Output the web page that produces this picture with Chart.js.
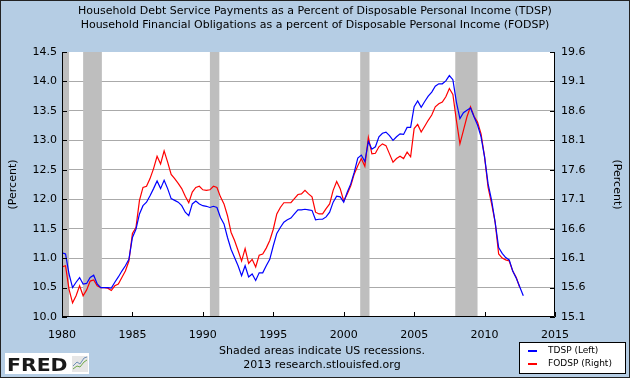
<!DOCTYPE html>
<html>
<head>
<meta charset="utf-8">
<script src="https://cdn.jsdelivr.net/npm/chart.js@4.4.1/dist/chart.umd.min.js"></script>
<style>
  html, body { margin: 0; padding: 0; background: #B5CDE4; }
  canvas { display: block; }
</style>
</head>
<body>
<canvas id="c" width="630" height="378"></canvas>
<script>
// ---------------- DATA ----------------
const firstYear = 1980;
const lastYear = 2012;
// quarterly categories (1980 Q1 ... 2012 Q4)
const quarters = [];
for (let y = firstYear; y <= lastYear; y++) for (let q = 0; q < 4; q++) quarters.push(y + q / 4);

// Household Debt Service Payments as % of DPI (left axis)
const tdsp = [
  11.09, 11.07, 10.73, 10.50,
  10.59, 10.67, 10.56, 10.57,
  10.67, 10.71, 10.56, 10.50,
  10.50, 10.50, 10.49, 10.59,
  10.68, 10.78, 10.87, 10.98,
  11.35, 11.49, 11.75, 11.89,
  11.95, 12.06, 12.18, 12.31,
  12.18, 12.32, 12.18, 12.01,
  11.98, 11.95, 11.89, 11.78,
  11.72, 11.92, 11.97, 11.92,
  11.89, 11.88, 11.86, 11.88,
  11.86, 11.69, 11.58, 11.35,
  11.15, 11.01, 10.87, 10.70,
  10.87, 10.68, 10.73, 10.62,
  10.75, 10.75, 10.87, 10.98,
  11.21, 11.42, 11.52, 11.61,
  11.65, 11.68, 11.75, 11.82,
  11.82, 11.83, 11.82, 11.81,
  11.65, 11.66, 11.66, 11.70,
  11.78, 11.95, 12.05, 12.04,
  11.95, 12.12, 12.26, 12.46,
  12.70, 12.75, 12.64, 12.98,
  12.85, 12.89, 13.06, 13.12,
  13.14, 13.08, 13.00, 13.06,
  13.11, 13.10, 13.22, 13.22,
  13.57, 13.67, 13.56, 13.66,
  13.75, 13.82, 13.92, 13.96,
  13.96, 14.01, 14.10, 14.03,
  13.65, 13.37, 13.47, 13.51,
  13.55, 13.40, 13.26, 13.06,
  12.72, 12.26, 11.98, 11.61,
  11.18, 11.08, 11.01, 10.97,
  10.78, 10.66, 10.51, 10.36
];

// Household Financial Obligations as % of DPI (right axis)
const fodsp = [
  15.95, 15.97, 15.57, 15.34,
  15.46, 15.63, 15.46, 15.56,
  15.71, 15.73, 15.63, 15.60,
  15.60, 15.59, 15.55, 15.63,
  15.66, 15.77, 15.88, 16.05,
  16.52, 16.62, 17.08, 17.30,
  17.32, 17.45, 17.62, 17.83,
  17.70, 17.92, 17.73, 17.52,
  17.45, 17.37, 17.28, 17.15,
  17.04, 17.22, 17.30, 17.32,
  17.26, 17.25, 17.26, 17.32,
  17.30, 17.14, 17.02, 16.82,
  16.54, 16.40, 16.23, 16.05,
  16.26, 16.01, 16.08, 15.95,
  16.15, 16.17, 16.27, 16.40,
  16.59, 16.85, 16.96, 17.04,
  17.04, 17.04, 17.11, 17.18,
  17.19, 17.25, 17.19, 17.14,
  16.88, 16.85, 16.85, 16.94,
  17.02, 17.25, 17.40, 17.28,
  17.07, 17.19, 17.33, 17.53,
  17.67, 17.79, 17.66, 18.15,
  17.87, 17.88, 17.99, 18.04,
  18.01, 17.87, 17.73, 17.79,
  17.83, 17.79, 17.90, 17.82,
  18.30, 18.37, 18.24, 18.34,
  18.44, 18.53, 18.67, 18.72,
  18.75, 18.84, 18.98, 18.88,
  18.44, 18.04, 18.27, 18.50,
  18.67, 18.51, 18.41, 18.21,
  17.82, 17.30, 17.02, 16.71,
  16.17, 16.10, 16.07, 16.05,
  15.88, 15.77, 15.60, null
];

// US recessions (start, end) in decimal years
const recessions = [
  [1980.0, 1980.5],
  [1981.5, 1982.83],
  [1990.5, 1991.17],
  [2001.17, 2001.83],
  [2007.92, 2009.5]
];

const xTicks = [1980, 1985, 1990, 1995, 2000, 2005, 2010, 2015];
const leftTicks = [10.0, 10.5, 11.0, 11.5, 12.0, 12.5, 13.0, 13.5, 14.0, 14.5];
const rightTicks = [15.1, 15.6, 16.1, 16.6, 17.1, 17.6, 18.1, 18.6, 19.1, 19.6];

const titleLines = [
  'Household Debt Service Payments as a Percent of Disposable Personal Income (TDSP)',
  'Household Financial Obligations as a percent of Disposable Personal Income (FODSP)'
];
const seriesNames = ['TDSP (Left)', 'FODSP (Right)'];
const noteLines = ['Shaded areas indicate US recessions.', '2013 research.stlouisfed.org'];
const axisTitle = '(Percent)';

// ---------------- STYLE ----------------
const FONT = "'DejaVu Sans', Verdana, sans-serif";
const BG = '#B5CDE4';
const BLUE = '#0000FF';
const RED = '#FF0000';

const decor = {
  id: 'decor',
  beforeDraw(chart) {
    const c = chart.ctx;
    c.save();
    c.fillStyle = BG;
    c.fillRect(0, 0, chart.width, chart.height);
    const a = chart.chartArea;
    c.fillStyle = '#FFFFFF';
    c.fillRect(a.left, a.top, a.right - a.left, a.bottom - a.top);
    c.restore();
  },
  beforeDatasetsDraw(chart) {
    const c = chart.ctx, a = chart.chartArea, xs = chart.scales.x;
    c.save();
    c.fillStyle = '#BEBEBE';
    recessions.forEach(([s, e]) => {
      const x0 = xs.getPixelForValue(s), x1 = xs.getPixelForValue(e);
      c.fillRect(x0, a.top, x1 - x0, a.bottom - a.top);
    });
    c.restore();
  },
  afterDatasetsDraw(chart) {
    const c = chart.ctx, a = chart.chartArea;
    const xs = chart.scales.x, yl = chart.scales.y, yr = chart.scales.y1;
    c.save();
    c.strokeStyle = '#000';
    c.lineWidth = 1;
    c.beginPath();
    c.moveTo(a.left + 0.5, a.top);
    c.lineTo(a.left + 0.5, a.bottom - 0.5);
    c.lineTo(a.right - 0.5, a.bottom - 0.5);
    c.lineTo(a.right - 0.5, a.top);
    // inside tick marks
    leftTicks.forEach(v => {
      const y = Math.round(yl.getPixelForValue(v)) + 0.5;
      c.moveTo(a.left, y); c.lineTo(a.left + 5, y);
    });
    rightTicks.forEach(v => {
      const y = Math.round(yr.getPixelForValue(v)) + 0.5;
      c.moveTo(a.right, y); c.lineTo(a.right - 5, y);
    });
    xTicks.forEach(v => {
      const x = Math.round(xs.getPixelForValue(v)) + 0.5;
      c.moveTo(x, a.bottom); c.lineTo(x, a.bottom - 5);
    });
    c.stroke();
    c.restore();
  },
  afterDraw(chart) {
    const c = chart.ctx, W = chart.width, H = chart.height;
    c.save();
    // footnote
    c.fillStyle = '#000';
    c.font = '11px ' + FONT;
    c.textAlign = 'center';
    c.textBaseline = 'middle';
    c.fillText(noteLines[0], 322, 351);
    c.fillText(noteLines[1], 322, 365);
    // legend box
    c.fillStyle = '#FFFFFF';
    c.fillRect(519, 342, 106, 31);
    c.strokeStyle = '#000';
    c.lineWidth = 1;
    c.strokeRect(519.5, 342.5, 106, 31);
    c.lineWidth = 2;
    c.strokeStyle = BLUE;
    c.beginPath(); c.moveTo(528, 351); c.lineTo(537, 351); c.stroke();
    c.strokeStyle = RED;
    c.beginPath(); c.moveTo(528, 364); c.lineTo(537, 364); c.stroke();
    c.fillStyle = '#000';
    c.font = '9px ' + FONT;
    c.textAlign = 'left';
    c.fillText(seriesNames[0], 548, 351);
    c.fillText(seriesNames[1], 548, 364);
    // FRED logo
    c.fillStyle = '#FFFFFF';
    c.fillRect(5, 353, 84, 21);
    c.fillStyle = '#1a1a1a';
    c.save();
    c.translate(7, 371);
    c.scale(1.2, 1);
    c.font = "bold 17px 'DejaVu Sans', sans-serif";
    c.textBaseline = 'alphabetic';
    c.fillText('FRED', 0, 0);
    c.restore();
    c.fillStyle = '#E6E6E6';
    c.fillRect(72, 356, 16, 16);
    c.lineWidth = 1;
    c.strokeStyle = '#6FA84A';
    c.beginPath(); c.moveTo(73, 369); c.lineTo(77, 366); c.lineTo(80, 367); c.lineTo(84, 362); c.lineTo(87, 360); c.stroke();
    c.strokeStyle = '#6E8FB5';
    c.beginPath(); c.moveTo(73, 366); c.lineTo(77, 362); c.lineTo(80, 364); c.lineTo(84, 358); c.lineTo(87, 357); c.stroke();
    // outer border
    c.strokeStyle = '#222';
    c.lineWidth = 1;
    c.strokeRect(0.5, 0.5, W - 1, H - 1);
    c.restore();
  }
};

const ctx = document.getElementById('c').getContext('2d');
new Chart(ctx, {
  type: 'line',
  data: {
    datasets: [
      {
        label: seriesNames[0],
        data: quarters.map((x, i) => ({ x, y: tdsp[i] })),
        borderColor: BLUE,
        borderWidth: 1.2,
        pointRadius: 0,
        tension: 0,
        yAxisID: 'y'
      },
      {
        label: seriesNames[1],
        data: quarters.map((x, i) => ({ x, y: fodsp[i] })),
        borderColor: RED,
        borderWidth: 1.2,
        pointRadius: 0,
        tension: 0,
        spanGaps: false,
        yAxisID: 'y1'
      }
    ]
  },
  options: {
    responsive: false,
    animation: false,
    devicePixelRatio: 1,
    layout: { padding: 0 },
    plugins: {
      legend: { display: false },
      tooltip: { enabled: false },
      title: {
        display: true,
        text: titleLines,
        color: '#000',
        font: { family: FONT, size: 11, weight: 'normal', lineHeight: 14 / 11 },
        padding: { top: 4, bottom: 20 }
      }
    },
    scales: {
      x: {
        type: 'linear',
        min: 1980,
        max: 2015,
        afterBuildTicks: s => { s.ticks = xTicks.map(v => ({ value: v })); },
        afterFit: s => { s.height = 61; },
        grid: { display: false },
        border: { display: false },
        ticks: {
          autoSkip: false, maxRotation: 0, padding: 4, color: '#000',
          font: { family: FONT, size: 11 },
          callback: v => String(v)
        }
      },
      y: {
        position: 'left',
        min: 10,
        max: 14.5,
        afterBuildTicks: s => { s.ticks = leftTicks.map(v => ({ value: v })); },
        afterFit: s => { s.width = 62; },
        grid: {
          drawTicks: false,
          lineWidth: 1,
          color: c => (c.tick && (c.tick.value === 10 || c.tick.value === 14.5)) ? 'rgba(0,0,0,0)' : '#AAAAAA'
        },
        border: { display: false },
        ticks: {
          padding: 5, color: '#000',
          font: { family: FONT, size: 11 },
          callback: v => Number(v).toFixed(1)
        },
        title: {
          display: true, text: axisTitle, color: '#000',
          font: { family: FONT, size: 11 },
          padding: { top: 7, bottom: 0 }
        }
      },
      y1: {
        position: 'right',
        min: 15.1,
        max: 19.6,
        afterBuildTicks: s => { s.ticks = rightTicks.map(v => ({ value: v })); },
        afterFit: s => { s.width = 75; },
        grid: { drawOnChartArea: false, drawTicks: false },
        border: { display: false },
        ticks: {
          padding: 6, color: '#000',
          font: { family: FONT, size: 11 },
          callback: v => Number(v).toFixed(1)
        },
        title: {
          display: true, text: axisTitle, color: '#000',
          font: { family: FONT, size: 11 },
          padding: { top: 7, bottom: 0 }
        }
      }
    }
  },
  plugins: [decor]
});
</script>
</body>
</html>
